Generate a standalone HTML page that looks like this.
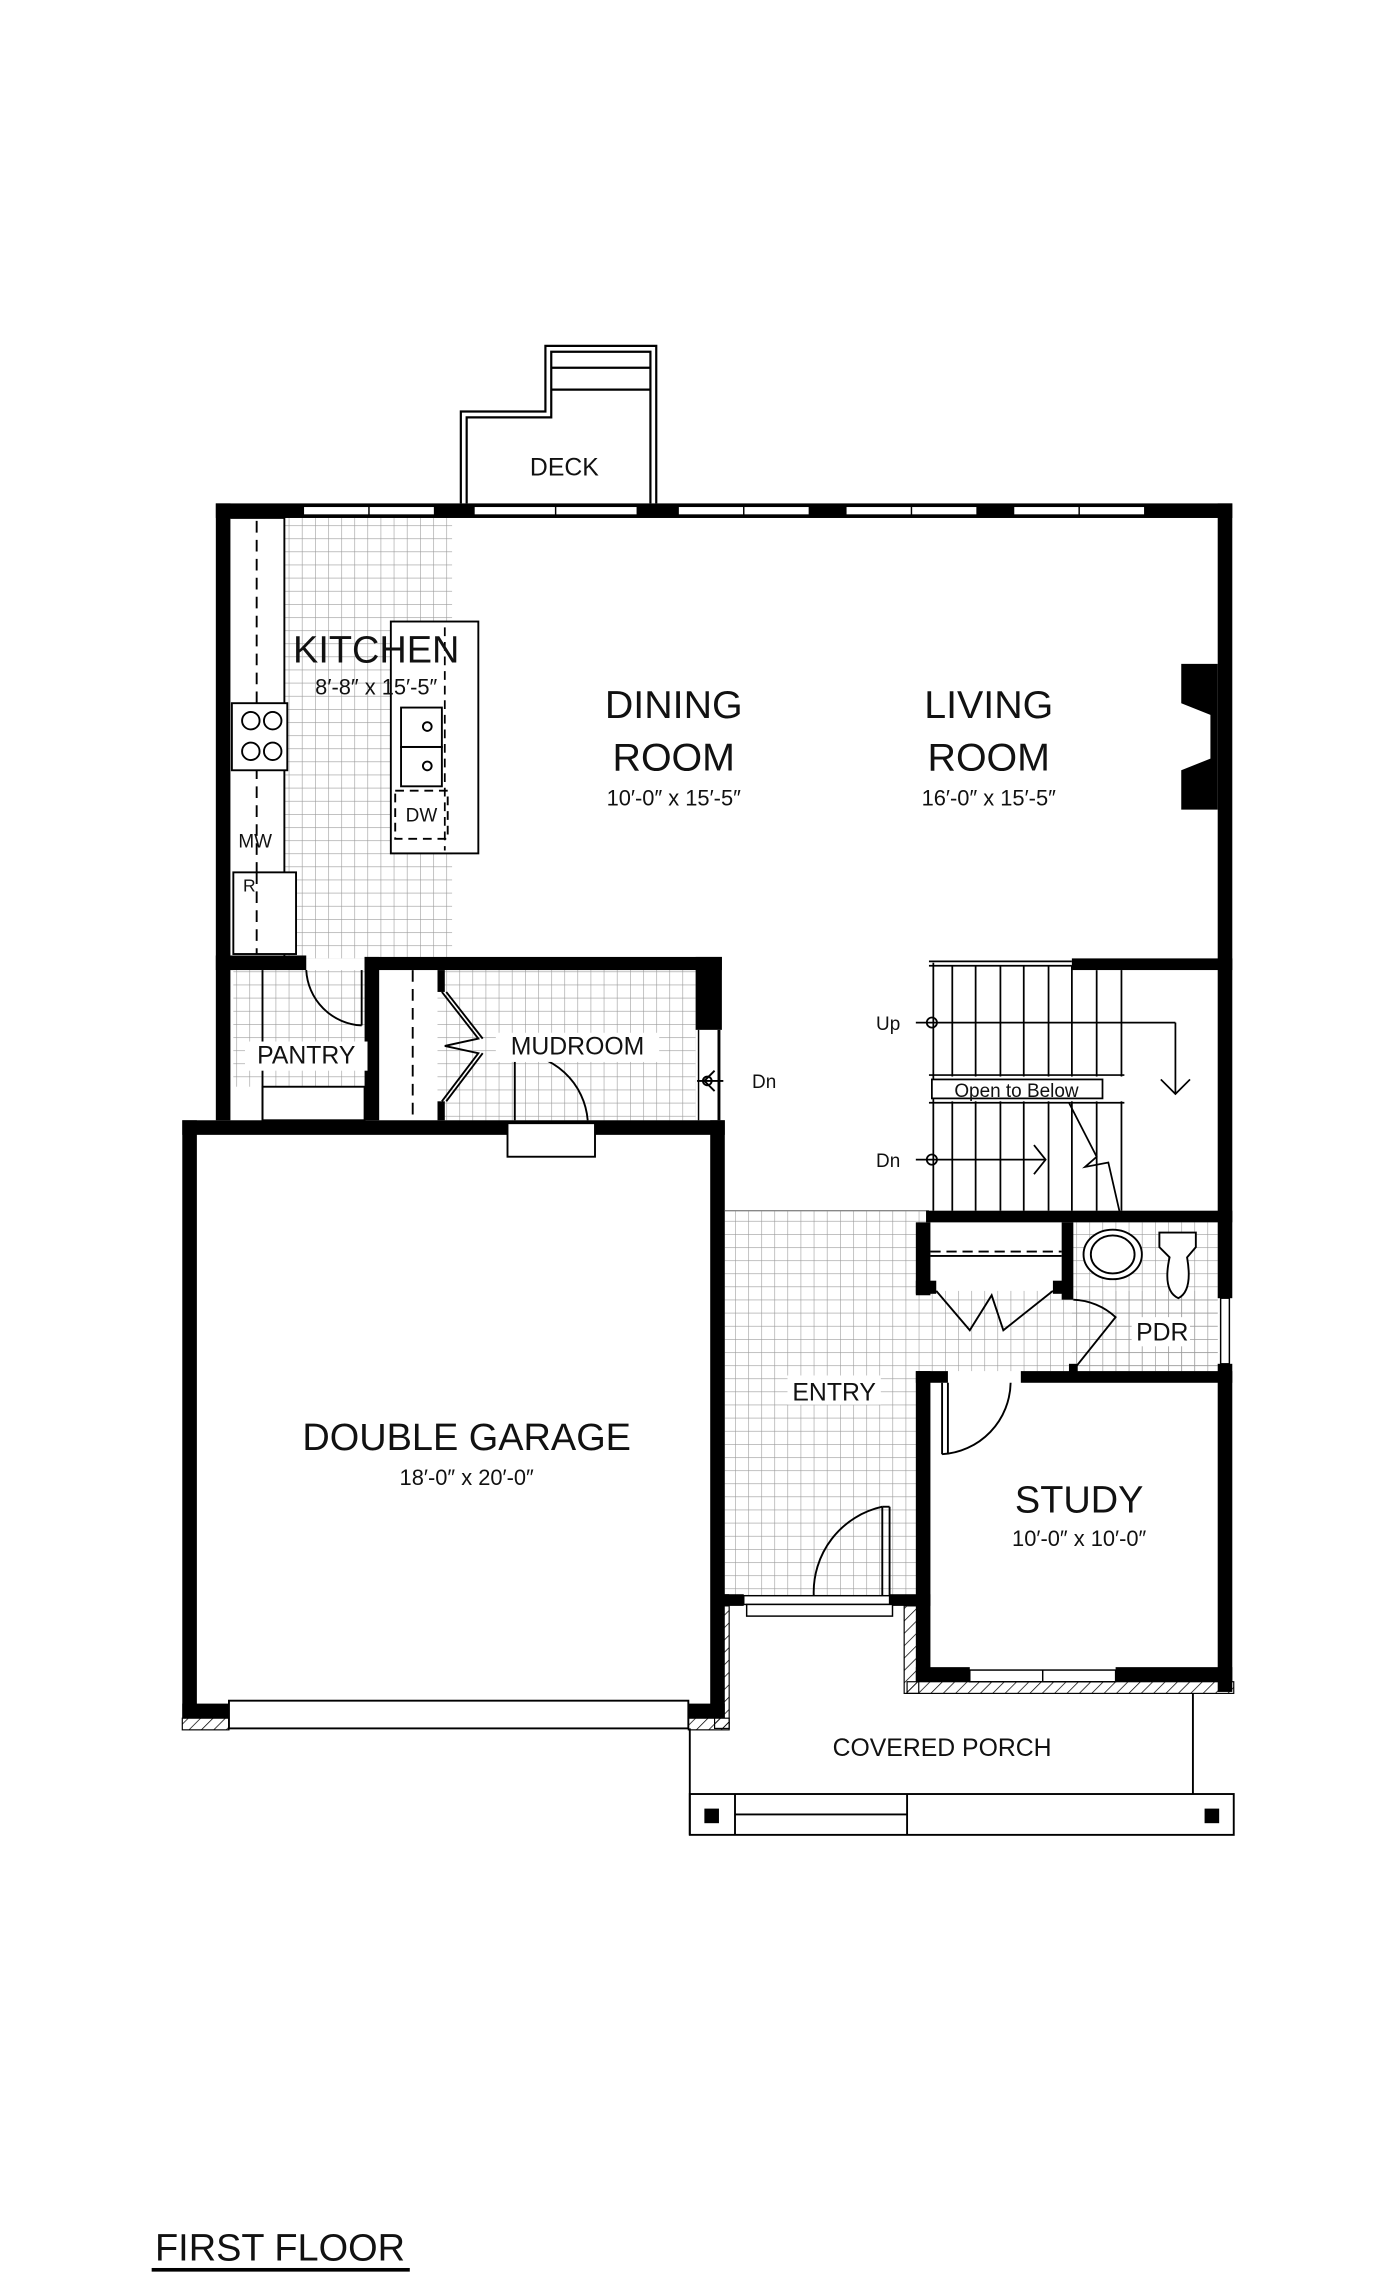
<!DOCTYPE html>
<html><head><meta charset="utf-8"><style>
html,body{margin:0;padding:0;background:#fff;}
svg{display:block;}
text{font-family:"Liberation Sans",sans-serif;fill:#111;text-anchor:middle;}
.t{font-weight:bold;fill:#1a1a1a;}
</style></head><body>
<svg width="1400" height="2277" viewBox="0 0 960 1561" xmlns="http://www.w3.org/2000/svg">
<defs>
<pattern id="g" width="9" height="9" patternUnits="userSpaceOnUse">
<path d="M0 0H9M0 0V9" stroke="#9a9a9a" stroke-width="0.8" fill="none"/>
</pattern>
<pattern id="h" width="6" height="6" patternUnits="userSpaceOnUse" patternTransform="rotate(45)">
<path d="M0 0V6" stroke="#000" stroke-width="1"/>
</pattern>
</defs>
<rect width="960" height="1561" fill="#fff"/>

<rect x="195" y="355" width="115" height="302" fill="url(#g)"/>
<rect x="160" y="665" width="90" height="80" fill="url(#g)"/>
<rect x="300" y="665" width="177" height="103" fill="url(#g)"/>
<rect x="497" y="830" width="140" height="265" fill="url(#g)"/>
<rect x="637" y="885" width="198" height="55" fill="url(#g)"/>
<rect x="735" y="838" width="100" height="102" fill="url(#g)"/>

<g fill="none" stroke="#000" stroke-width="1.5">
<path d="M316 345V282H374V237H450V345"/>
<path d="M320 345V286H378V241H446V345"/>
<line x1="378" y1="252" x2="446" y2="252"/>
<line x1="378" y1="267" x2="446" y2="267"/>
</g>
<text x="387" y="326" font-size="17">DECK</text>

<rect x="148" y="345" width="697" height="10" fill="#000"/>
<g fill="#fff" stroke="#000" stroke-width="1">
<rect x="208" y="347" width="90" height="6"/>
<rect x="325" y="347" width="112" height="6"/>
<rect x="465" y="347" width="90" height="6"/>
<rect x="580" y="347" width="90" height="6"/>
<rect x="695" y="347" width="90" height="6"/>
</g>
<g stroke="#000" stroke-width="1"><line x1="253" y1="347" x2="253" y2="353"/><line x1="381" y1="347" x2="381" y2="353"/><line x1="510" y1="347" x2="510" y2="353"/><line x1="625" y1="347" x2="625" y2="353"/><line x1="740" y1="347" x2="740" y2="353"/></g>

<rect x="148" y="345" width="10" height="423" fill="#000"/>
<rect x="835" y="345" width="10" height="545" fill="#000"/>
<rect x="835" y="935" width="10" height="225" fill="#000"/>
<rect x="837" y="890" width="6" height="45" fill="#fff" stroke="#000" stroke-width="1"/>
<path d="M810 455H835V555H810V528L830 520V490L810 482Z" fill="#000"/>

<g fill="none" stroke="#000" stroke-width="1.3">
<path d="M158 355H195V655"/>
<line x1="176" y1="357" x2="176" y2="655" stroke-dasharray="8,5"/>
<rect x="159" y="482" width="38" height="46" fill="#fff"/>
<circle cx="172" cy="494" r="6"/><circle cx="187" cy="494" r="6"/>
<circle cx="172" cy="515" r="6"/><circle cx="187" cy="515" r="6"/>
<rect x="160" y="598" width="43" height="56" fill="#fff"/>
<rect x="268" y="426" width="60" height="159" fill="#fff"/>
<rect x="275" y="485" width="28" height="27"/>
<rect x="275" y="512" width="28" height="27"/>
<circle cx="293" cy="498" r="3"/><circle cx="293" cy="525" r="3"/>
<line x1="176" y1="598" x2="176" y2="654" stroke-dasharray="8,5"/>
</g>
<rect x="271" y="542" width="36" height="33" fill="none" stroke="#000" stroke-width="1.3" stroke-dasharray="6,4"/>
<line x1="305" y1="430" x2="305" y2="583" stroke="#000" stroke-width="1.2" stroke-dasharray="6,4"/>
<text x="289" y="563" font-size="13">DW</text>
<text x="175" y="581" font-size="13">MW</text>
<text x="171" y="611" font-size="12">R</text>
<text x="258" y="454" font-size="26">KITCHEN</text>
<text x="258" y="476" font-size="15">8′-8″ x 15′-5″</text>

<text x="462" y="492" font-size="27">DINING</text>
<text x="462" y="528" font-size="27">ROOM</text>
<text x="462" y="552" font-size="15">10′-0″ x 15′-5″</text>
<text x="678" y="492" font-size="27">LIVING</text>
<text x="678" y="528" font-size="27">ROOM</text>
<text x="678" y="552" font-size="15">16′-0″ x 15′-5″</text>

<rect x="148" y="655" width="62" height="10" fill="#000"/>
<rect x="250" y="656" width="245" height="9" fill="#000"/>
<rect x="250" y="656" width="10" height="112" fill="#000"/>
<rect x="477" y="656" width="18" height="50" fill="#000"/>
<line x1="493" y1="706" x2="493" y2="768" stroke="#000" stroke-width="2"/>
<line x1="479" y1="706" x2="479" y2="768" stroke="#000" stroke-width="1"/>
<g fill="none" stroke="#000" stroke-width="1.3">
<path d="M210 665A40 40 0 0 0 248 703"/>
<line x1="248" y1="665" x2="248" y2="703"/>
<rect x="180" y="745" width="70" height="23"/>
<line x1="180" y1="665" x2="180" y2="768"/>
<line x1="283" y1="665" x2="283" y2="768" stroke-dasharray="8,5"/>
<path d="M303 680L328 712L305 717L328 722L303 755"/>
<path d="M306 680L331 712M306 755L331 722"/>
<line x1="353" y1="722" x2="353" y2="768"/>
<path d="M353 722A50 50 0 0 1 403 768"/>
</g>
<rect x="300" y="665" width="5" height="15" fill="#000"/>
<rect x="300" y="755" width="5" height="13" fill="#000"/>
<rect x="168" y="714" width="84" height="20" fill="#fff"/>
<text x="210" y="729" font-size="17">PANTRY</text>
<rect x="340" y="708" width="112" height="20" fill="#fff"/>
<text x="396" y="723" font-size="17">MUDROOM</text>
<g fill="none" stroke="#000" stroke-width="1.3"><line x1="478" y1="741" x2="496" y2="741"/><circle cx="485" cy="741" r="3"/><path d="M490 734L483 741L490 748"/></g>
<text x="524" y="746" font-size="13">Dn</text>

<rect x="125" y="768" width="372" height="10" fill="#000"/>
<rect x="125" y="768" width="10" height="410" fill="#000"/>
<rect x="487" y="768" width="10" height="410" fill="#000"/>
<rect x="125" y="1168" width="32" height="10" fill="#000"/>
<rect x="470" y="1168" width="27" height="10" fill="#000"/>
<rect x="348" y="770" width="60" height="23" fill="#fff" stroke="#000" stroke-width="1.3"/>
<rect x="157" y="1166" width="315" height="19" fill="#fff" stroke="#000" stroke-width="1.3"/>
<rect x="125" y="1178" width="32" height="8" fill="url(#h)" stroke="#000" stroke-width="0.8"/>
<rect x="472" y="1178" width="28" height="8" fill="url(#h)" stroke="#000" stroke-width="0.8"/>
<text x="320" y="994" font-size="26">DOUBLE GARAGE</text>
<text x="320" y="1018" font-size="15">18′-0″ x 20′-0″</text>

<line x1="497" y1="830" x2="637" y2="830" stroke="#888" stroke-width="1"/>
<rect x="540" y="943" width="64" height="20" fill="#fff"/>
<text x="572" y="960" font-size="17">ENTRY</text>
<rect x="490" y="1093" width="20" height="8" fill="#000"/>
<rect x="610" y="1093" width="28" height="8" fill="#000"/>
<rect x="510" y="1094" width="100" height="6" fill="#fff" stroke="#000" stroke-width="1"/>
<rect x="512" y="1100" width="100" height="8" fill="#fff" stroke="#000" stroke-width="1"/>
<g fill="none" stroke="#000" stroke-width="1.3">
<line x1="605" y1="1033" x2="605" y2="1094"/><line x1="610" y1="1033" x2="610" y2="1094"/><line x1="605" y1="1033" x2="610" y2="1033"/>
<path d="M605 1033A60 60 0 0 0 558 1094"/>
</g>
<rect x="490" y="1101" width="10" height="84" fill="url(#h)" stroke="#000" stroke-width="0.8"/>
<rect x="620" y="1101" width="10" height="60" fill="url(#h)" stroke="#000" stroke-width="0.8"/>
<rect x="490" y="1093" width="10" height="8" fill="#000"/>

<rect x="735" y="657" width="110" height="8" fill="#000"/>
<rect x="635" y="830" width="210" height="8" fill="#000"/>
<g stroke="#000" stroke-width="1.2" fill="none">
<line x1="637" y1="659" x2="735" y2="659"/><line x1="637" y1="662" x2="735" y2="662"/>
<line x1="640" y1="660" x2="640" y2="830"/>
<line x1="653" y1="662" x2="653" y2="738"/><line x1="669" y1="662" x2="669" y2="738"/><line x1="686" y1="662" x2="686" y2="738"/><line x1="702" y1="662" x2="702" y2="738"/><line x1="719" y1="662" x2="719" y2="738"/><line x1="735" y1="662" x2="735" y2="738"/><line x1="752" y1="665" x2="752" y2="738"/><line x1="769" y1="665" x2="769" y2="738"/>
<line x1="653" y1="755" x2="653" y2="830"/><line x1="669" y1="755" x2="669" y2="830"/><line x1="686" y1="755" x2="686" y2="830"/><line x1="702" y1="755" x2="702" y2="830"/><line x1="719" y1="755" x2="719" y2="830"/><line x1="735" y1="755" x2="735" y2="830"/><line x1="752" y1="755" x2="752" y2="830"/><line x1="769" y1="755" x2="769" y2="830"/>
<line x1="637" y1="737" x2="771" y2="737"/><line x1="637" y1="756" x2="771" y2="756"/>
<rect x="639" y="740" width="117" height="13" fill="#fff"/>
<line x1="628" y1="701" x2="806" y2="701"/><line x1="806" y1="701" x2="806" y2="750"/>
<path d="M796 740L806 750L816 740"/>
<circle cx="639" cy="701" r="3.5"/>
<line x1="628" y1="795" x2="717" y2="795"/><path d="M709 785L717 795L709 805"/>
<circle cx="639" cy="795" r="3.5"/>
<path d="M733 756L752 793L744 800L760 797L768 832"/>
</g>
<text x="697" y="752" font-size="13">Open to Below</text>
<text x="609" y="706" font-size="13">Up</text>
<text x="609" y="800" font-size="13">Dn</text>

<rect x="628" y="838" width="10" height="50" fill="#000"/>
<rect x="728" y="838" width="8" height="53" fill="#000"/>
<rect x="628" y="878" width="14" height="9" fill="#000"/>
<rect x="722" y="878" width="12" height="9" fill="#000"/>
<g fill="none" stroke="#000" stroke-width="1.3">
<line x1="638" y1="858" x2="728" y2="858" stroke-dasharray="7,4"/>
<line x1="638" y1="861" x2="728" y2="861"/>
<path d="M642 885L665 912L680 888L688 912L722 885"/>
<ellipse cx="763" cy="860" rx="20" ry="17" fill="#fff"/><ellipse cx="763" cy="860" rx="15" ry="13"/>
<path d="M795 845H820V855L814 862Q818 885 808 890Q797 885 802 862L795 855Z" fill="#fff"/>
<path d="M736 891A45 45 0 0 1 765 903L737 938"/>
</g>
<rect x="733" y="935" width="6" height="8" fill="#000"/>
<rect x="776" y="903" width="40" height="20" fill="#fff"/>
<text x="797" y="919" font-size="17">PDR</text>

<rect x="628" y="940" width="22" height="8" fill="#000"/>
<rect x="700" y="940" width="145" height="8" fill="#000"/>
<rect x="628" y="940" width="10" height="213" fill="#000"/>
<rect x="628" y="1143" width="37" height="10" fill="#000"/>
<rect x="765" y="1143" width="80" height="10" fill="#000"/>
<rect x="665" y="1145" width="100" height="8" fill="#fff" stroke="#000" stroke-width="1"/>
<line x1="715" y1="1145" x2="715" y2="1153" stroke="#000"/>
<rect x="622" y="1153" width="224" height="8" fill="url(#h)" stroke="#000" stroke-width="0.8"/>
<g fill="none" stroke="#000" stroke-width="1.3">
<path d="M646 948V997"/><path d="M650 948V997"/>
<path d="M646 997A50 50 0 0 0 693 948"/>
</g>
<text x="740" y="1037" font-size="26">STUDY</text>
<text x="740" y="1060" font-size="15">10′-0″ x 10′-0″</text>

<g fill="none" stroke="#000" stroke-width="1.3">
<line x1="473" y1="1185" x2="473" y2="1258"/>
<line x1="818" y1="1161" x2="818" y2="1230"/>
<rect x="473" y="1230" width="373" height="28"/>
<line x1="504" y1="1230" x2="504" y2="1258"/>
<line x1="622" y1="1230" x2="622" y2="1258"/>
<line x1="504" y1="1244" x2="622" y2="1244"/>
</g>
<rect x="483" y="1240" width="10" height="10" fill="#000"/>
<rect x="826" y="1240" width="10" height="10" fill="#000"/>
<text x="646" y="1204" font-size="17">COVERED PORCH</text>

<text x="192" y="1550" font-size="26">FIRST FLOOR</text>
<rect x="104" y="1555" width="177" height="2.5" fill="#000"/>
</svg>
</body></html>
